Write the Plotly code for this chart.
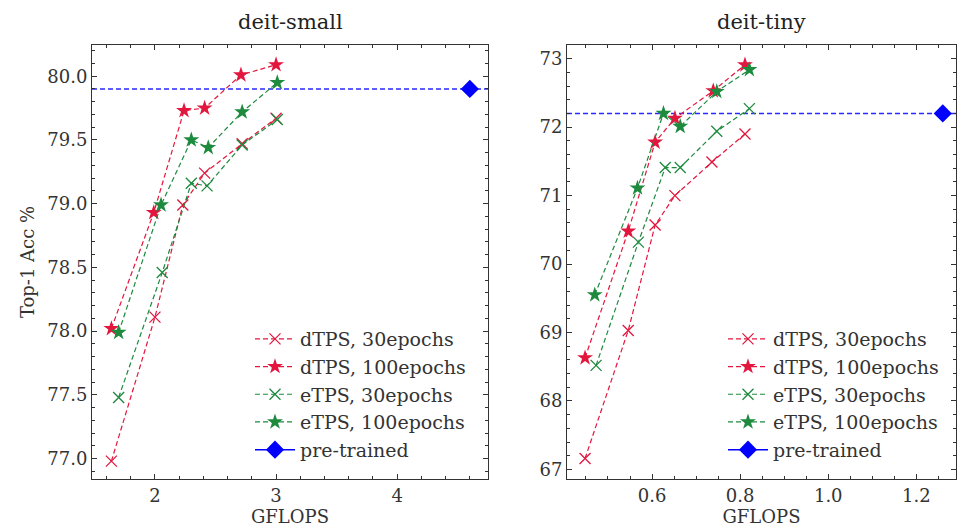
import plotly.graph_objects as go

# ---------------- data ----------------
series_names = ["dTPS, 30epochs", "dTPS, 100epochs", "eTPS, 30epochs", "eTPS, 100epochs"]

# deit-small
small_dtps30_x = [1.64, 2.00, 2.23, 2.41, 2.72, 3.00]
small_dtps30_y = [76.98, 78.11, 78.99, 79.24, 79.47, 79.67]
small_dtps100_x = [1.64, 1.99, 2.24, 2.41, 2.71, 3.00]
small_dtps100_y = [78.02, 78.93, 79.73, 79.75, 80.01, 80.09]
small_etps30_x = [1.70, 2.06, 2.30, 2.43, 2.72, 3.01]
small_etps30_y = [77.48, 78.46, 79.16, 79.14, 79.46, 79.66]
small_etps100_x = [1.70, 2.05, 2.30, 2.44, 2.72, 3.01]
small_etps100_y = [77.99, 78.99, 79.50, 79.44, 79.72, 79.95]
small_pre_x = [4.6]
small_pre_y = [79.9]

# deit-tiny
tiny_dtps30_x = [0.448, 0.546, 0.607, 0.652, 0.736, 0.811]
tiny_dtps30_y = [67.16, 69.03, 70.57, 71.00, 71.49, 71.90]
tiny_dtps100_x = [0.448, 0.546, 0.607, 0.652, 0.739, 0.811]
tiny_dtps100_y = [68.63, 70.48, 71.78, 72.13, 72.53, 72.91]
tiny_etps30_x = [0.473, 0.569, 0.630, 0.664, 0.747, 0.821]
tiny_etps30_y = [68.52, 70.32, 71.41, 71.41, 71.94, 72.27]
tiny_etps100_x = [0.470, 0.567, 0.626, 0.664, 0.747, 0.821]
tiny_etps100_y = [69.55, 71.11, 72.20, 72.01, 72.52, 72.84]
tiny_pre_x = [1.26]
tiny_pre_y = [72.2]

panel_titles = ["deit-small", "deit-tiny"]

# ---------------- style ----------------
RED = "#e3173e"
GREEN = "#1d8a3e"
BLUE = "#0000ff"
FONT = "DejaVu Serif"
W, H = 958, 530
TICK_FS = 18
LEG_FS = 19

colors = [RED, RED, GREEN, GREEN]
symbols = ["x-thin-open", "star", "x-thin-open", "star"]

fig = go.Figure()

panels = [
    dict(xs=[small_dtps30_x, small_dtps100_x, small_etps30_x, small_etps100_x],
         ys=[small_dtps30_y, small_dtps100_y, small_etps30_y, small_etps100_y],
         px=small_pre_x, py=small_pre_y, xa="x", ya="y", legend="legend"),
    dict(xs=[tiny_dtps30_x, tiny_dtps100_x, tiny_etps30_x, tiny_etps100_x],
         ys=[tiny_dtps30_y, tiny_dtps100_y, tiny_etps30_y, tiny_etps100_y],
         px=tiny_pre_x, py=tiny_pre_y, xa="x2", ya="y2", legend="legend2"),
]

for p in panels:
    for name, xs, ys, c, s in zip(series_names, p["xs"], p["ys"], colors, symbols):
        is_x = s.startswith("x")
        fig.add_trace(go.Scatter(
            x=xs, y=ys, name=name, mode="lines+markers",
            line=dict(color=c, width=1.2, dash="5px,3px"),
            marker=dict(symbol=s, size=11 if is_x else 12, color=c,
                        line=dict(color=c, width=1.3 if is_x else 0)),
            xaxis=p["xa"], yaxis=p["ya"], legend=p["legend"],
        ))
    fig.add_trace(go.Scatter(
        x=p["px"], y=p["py"], name="pre-trained", mode="lines+markers",
        line=dict(color=BLUE, width=1.5),
        marker=dict(symbol="diamond", size=14, color=BLUE),
        xaxis=p["xa"], yaxis=p["ya"], legend=p["legend"],
    ))
    # dashed horizontal reference at the pre-trained accuracy
    fig.add_shape(type="line", xref=p["xa"] + " domain", x0=0, x1=1,
                  yref=p["ya"], y0=p["py"][0], y1=p["py"][0],
                  line=dict(color="#2a2aff", width=1.4, dash="5px,3px"), layer="below")

def px2fx(x):
    return x / W

def px2fy(y):
    return 1 - y / H

common_axis = dict(
    showline=True, linecolor="#333", linewidth=1, mirror="allticks",
    ticks="inside", ticklen=5, tickwidth=1, tickcolor="#333",
    showgrid=False, zeroline=False, automargin=False,
    tickfont=dict(family=FONT, size=TICK_FS, color="#333"),
)

fig.update_layout(
    width=W, height=H, margin=dict(l=0, r=0, t=0, b=0),
    paper_bgcolor="white", plot_bgcolor="white",
    font=dict(family=FONT, color="#333"),
    xaxis=dict(domain=[px2fx(92), px2fx(488)], range=[1.48, 4.75], dtick=1, tick0=0,
               minor=dict(dtick=0.2, ticks="inside", ticklen=3, tickcolor="#333"),
               title=dict(text="GFLOPS", font=dict(family=FONT, size=TICK_FS), standoff=4),
               anchor="y", **common_axis),
    yaxis=dict(domain=[px2fy(479), px2fy(45)], range=[76.84, 80.245], dtick=0.5, tick0=0,
               tickformat=".1f",
               minor=dict(dtick=0.1, ticks="inside", ticklen=3, tickcolor="#333"),
               title=dict(text="Top-1 Acc %", font=dict(family=FONT, size=TICK_FS), standoff=8),
               anchor="x", **common_axis),
    xaxis2=dict(domain=[px2fx(567), px2fx(956)], range=[0.407, 1.29], dtick=0.2, tick0=0,
                tickformat=".1f",
                minor=dict(dtick=0.05, ticks="inside", ticklen=3, tickcolor="#333"),
                title=dict(text="GFLOPS", font=dict(family=FONT, size=TICK_FS), standoff=4),
                anchor="y2", **common_axis),
    yaxis2=dict(domain=[px2fy(479), px2fy(45)], range=[66.86, 73.2], dtick=1, tick0=0,
                minor=dict(dtick=0.2, ticks="inside", ticklen=3, tickcolor="#333"),
                anchor="x2", **common_axis),
    legend=dict(x=px2fx(250), y=px2fy(320), xanchor="left", yanchor="top",
                bgcolor="rgba(0,0,0,0)", font=dict(family=FONT, size=LEG_FS, color="#333"),
                itemwidth=40, tracegroupgap=0),
    legend2=dict(x=px2fx(723), y=px2fy(320), xanchor="left", yanchor="top",
                 bgcolor="rgba(0,0,0,0)", font=dict(family=FONT, size=LEG_FS, color="#333"),
                 itemwidth=40, tracegroupgap=0),
    showlegend=True,
)

centers = [(92 + 488) / 2, (567 + 956) / 2]
for t, cx in zip(panel_titles, centers):
    fig.add_annotation(text=t, x=px2fx(cx), y=px2fy(22), xref="paper", yref="paper",
                       showarrow=False, xanchor="center", yanchor="middle",
                       font=dict(family=FONT, size=21, color="#222"))

fig.write_html("out.html")
